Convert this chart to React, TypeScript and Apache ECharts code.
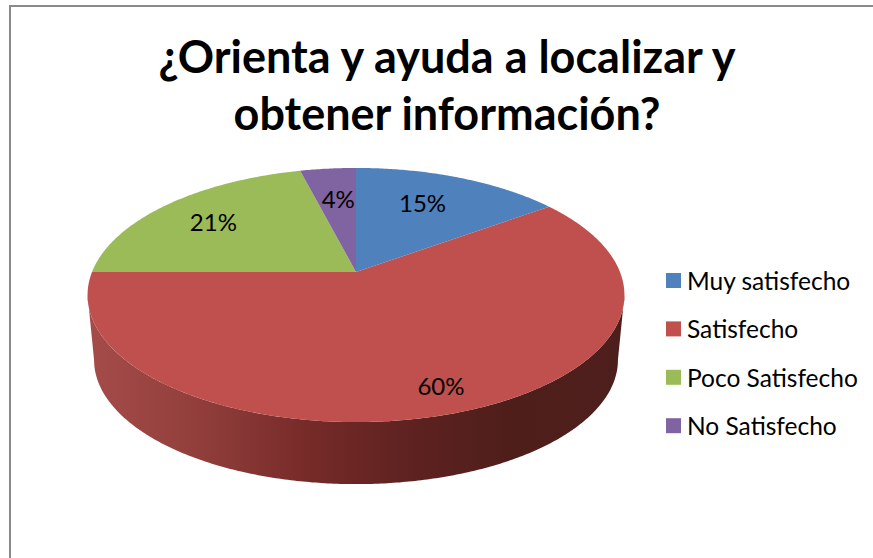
import React, { useEffect, useRef } from "react";
import * as echarts from "echarts";

const titleText = "¿Orienta y ayuda a localizar y\nobtener información?";
const categories = ["Muy satisfecho", "Satisfecho", "Poco Satisfecho", "No Satisfecho"];
const values = [15, 60, 21, 4];
const colors = ["#4f81bd", "#bf504d", "#9bbb59", "#8064a2"];
const labelRadius = [0.61, 0.83, 0.74, 0.67];
const labelNudgeX = [0, 6, 0, 2];
const labelNudgeY = [-9, 0, 1, -1];

const FONT = "Lato, 'Open Sans', sans-serif";
const TILT = 0.181;
const TOP = { cx: 356, cy: 272, rx: 264, ry: 122.9 };
const BOTTOM = { cx: 356, cy: 337.6, rx: 257.6, ry: 120 };
const TAU = Math.PI * 2;

type Plane = { cx: number; cy: number; rx: number; ry: number };

function project(p: Plane, theta: number, f = 1): number[] {
  const u = Math.sin(theta) * f;
  const v = Math.cos(theta) * f;
  const w = 1 + TILT * v;
  return [p.cx + (p.rx * u) / w, p.cy - (p.ry * v) / w];
}

function arc(p: Plane, a: number, b: number): number[][] {
  const n = Math.max(2, Math.ceil((b - a) / 0.01));
  const out: number[][] = [];
  for (let i = 0; i <= n; i++) out.push(project(p, a + ((b - a) * i) / n));
  return out;
}

const total = values.reduce((s, v) => s + v, 0);
const sideGradient = {
  type: "linear",
  x: 87,
  y: 0,
  x2: 624,
  y2: 0,
  global: true,
  colorStops: [
    { offset: 0, color: "#a54c49" },
    { offset: 0.2, color: "#923f3c" },
    { offset: 0.42, color: "#752a28" },
    { offset: 0.6, color: "#5e2220" },
    { offset: 0.78, color: "#4f1e1b" },
    { offset: 1, color: "#4d1f1c" },
  ],
};

function makeSeries(i: number) {
  const before = values.slice(0, i).reduce((s, v) => s + v, 0);
  const start = (before / total) * TAU;
  const end = ((before + values[i]) / total) * TAU;
  const mid = (start + end) / 2;
  return {
    type: "custom",
    name: categories[i],
    coordinateSystem: "none",
    itemStyle: { color: colors[i] },
    data: [[values[i]]],
    renderItem: () => {
      const children: any[] = [];
      const tangent = Math.acos(-TILT);
      const a = Math.max(start, tangent);
      const b = Math.min(end, TAU - tangent);
      if (b > a) {
        const points = [...arc(TOP, a, b), ...arc(BOTTOM, a, b).reverse()];
        children.push({ type: "polygon", shape: { points }, style: { fill: sideGradient } });
      }
      children.push({
        type: "polygon",
        shape: { points: [[TOP.cx, TOP.cy], ...arc(TOP, start, end)] },
        style: { fill: colors[i] },
      });
      const [x, y] = project(TOP, mid, labelRadius[i]);
      children.push({
        type: "text",
        z2: 10,
        style: {
          x: x + labelNudgeX[i],
          y: y + labelNudgeY[i],
          text: `${Math.round((values[i] / total) * 100)}%`,
          fontSize: 24,
          fontFamily: FONT,
          fill: "#000",
          align: "center",
          verticalAlign: "middle",
        },
      });
      return { type: "group", children };
    },
  };
}

export default function App() {
  const ref = useRef<HTMLDivElement>(null);
  useEffect(() => {
    document.body.style.margin = "0";
    const chart = echarts.init(ref.current!, null, { renderer: "svg" });
    chart.setOption({
      animation: false,
      backgroundColor: "#fff",
      title: {
        text: titleText,
        left: 442,
        top: 22,
        textAlign: "center",
        textStyle: { fontFamily: FONT, fontSize: 45, fontWeight: "bold", color: "#000", lineHeight: 57 },
      },
      legend: {
        orient: "vertical",
        left: 661,
        top: 263,
        icon: "rect",
        itemWidth: 15,
        itemHeight: 15,
        itemGap: 23.4,
        selectedMode: false,
        textStyle: { fontFamily: FONT, fontSize: 24.5, color: "#000", padding: [0, 0, 0, 1] },
        data: categories,
      },
      graphic: [
        {
          type: "polyline",
          shape: { points: [[10, 558], [10, 6], [873, 6]] },
          style: { stroke: "#8a8a8a", lineWidth: 2, fill: "none" },
        },
      ],
      series: categories.map((_, i) => makeSeries(i)),
    });
    return () => chart.dispose();
  }, []);
  return <div ref={ref} style={{ width: 873, height: 558 }} />;
}
